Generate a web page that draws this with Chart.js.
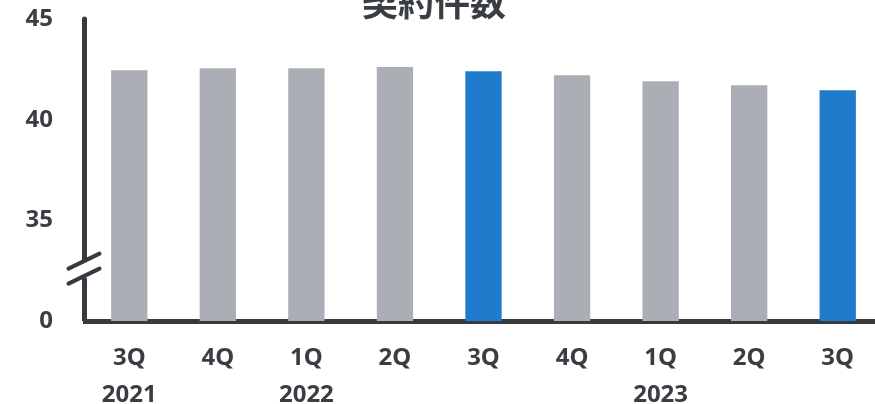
<!DOCTYPE html>
<html>
<head>
<meta charset="utf-8">
<script src="https://cdn.jsdelivr.net/npm/chart.js@4.4.0/dist/chart.umd.min.js"></script>
<style>
  html, body { margin: 0; padding: 0; overflow: hidden; background: #fff; }
  #wrap { position: absolute; left: 0; top: 0; width: 882px; height: 404px; }
</style>
</head>
<body>
<div id="wrap"><canvas id="barChart"></canvas></div>
<script>
const title = "契約件数";
const quarters = ["3Q", "4Q", "1Q", "2Q", "3Q", "4Q", "1Q", "2Q", "3Q"];
const years = ["2021", "", "2022", "", "", "", "2023", "", ""];
const values = [42.46, 42.56, 42.56, 42.61, 42.41, 42.21, 41.91, 41.71, 41.46];
const highlighted = [false, false, false, false, true, false, false, false, true];
// the axis is broken: the bottom tick stands for 0
const yMin = 30;
const yMax = 45;
const yStep = 5;
const breakValue = 32.6;

const ink = "#3a3d42";
const axisColor = "#373a3f";

const axisPlugin = {
  id: "axisBreak",
  afterDraw(chart) {
    const ctx = chart.ctx;
    const area = chart.chartArea;
    const y = chart.scales.y;
    const x0 = area.left - 0.5;
    const yb = y.getPixelForValue(breakValue);

    ctx.save();
    ctx.strokeStyle = axisColor;
    ctx.lineWidth = 5;
    ctx.lineCap = "round";
    ctx.beginPath();
    ctx.moveTo(x0, area.top);
    ctx.lineTo(x0, yb - 9);
    ctx.stroke();
    ctx.lineCap = "butt";
    ctx.beginPath();
    ctx.moveTo(x0, yb + 9);
    ctx.lineTo(x0, area.bottom);
    ctx.stroke();

    // the two slashes
    ctx.lineWidth = 4;
    ctx.lineCap = "round";
    [-7.5, 7.5].forEach((d) => {
      ctx.beginPath();
      ctx.moveTo(x0 - 16, yb + d + 7.5);
      ctx.lineTo(x0 + 15, yb + d - 7.5);
      ctx.stroke();
    });

    ctx.fillStyle = ink;
    ctx.font = "bold 36px 'Noto Sans CJK JP'";
    ctx.textAlign = "center";
    ctx.textBaseline = "alphabetic";
    ctx.fillText(title, 434, 16);
    ctx.restore();
  },
};

new Chart(document.getElementById("barChart"), {
  type: "bar",
  data: {
    labels: quarters.map((q, i) => [q, years[i]]),
    datasets: [
      {
        label: title,
        data: values,
        backgroundColor: highlighted.map((h) => (h ? "#1f7bcb" : "#abaeb5")),
        borderWidth: 0,
        barPercentage: 0.41,
        categoryPercentage: 1,
      },
    ],
  },
  options: {
    responsive: true,
    maintainAspectRatio: false,
    animation: false,
    layout: { padding: { top: 19, right: 0, left: 0, bottom: 0 } },
    plugins: {
      legend: { display: false },
      tooltip: { enabled: false },
      title: { display: false },
    },
    scales: {
      x: {
        grid: { display: false, drawTicks: false },
        border: { display: true, color: axisColor, width: 5 },
        ticks: {
          color: ink,
          font: { family: "Noto Sans", weight: "bold", size: 24, lineHeight: 1.54 },
          padding: 19,
          maxRotation: 0,
          autoSkip: false,
        },
        afterFit(scale) {
          scale.height = 83;
          scale.paddingLeft = 0;
          scale.paddingRight = 0;
        },
      },
      y: {
        min: yMin,
        max: yMax,
        grid: { display: false, drawTicks: false },
        border: { display: false },
        ticks: {
          stepSize: yStep,
          color: ink,
          font: { family: "Noto Sans", weight: "bold", size: 24 },
          padding: 32,
          callback: (v) => (v === yMin ? "0" : v),
        },
        afterFit(scale) {
          scale.width = 85;
          scale.paddingTop = 0;
          scale.paddingBottom = 0;
        },
      },
    },
  },
  plugins: [axisPlugin],
});
</script>
</body>
</html>
